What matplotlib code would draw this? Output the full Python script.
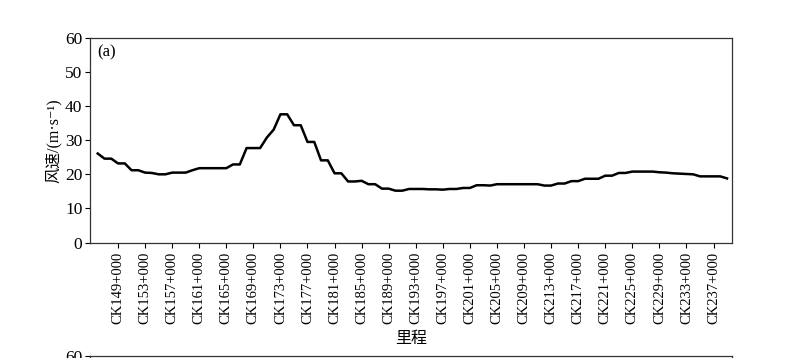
import matplotlib
matplotlib.use("Agg")
import matplotlib.pyplot as plt
import numpy as np

plt.rcParams['font.family'] = ['Liberation Serif', 'Noto Sans CJK SC', 'DejaVu Sans']

km = list(range(146, 240))
wind_speed = [
    26.1, 24.6, 24.6, 23.2, 23.2, 21.2, 21.2, 20.5, 20.4, 20.0,
    20.0, 20.5, 20.5, 20.5, 21.2, 21.8, 21.8, 21.8, 21.8, 21.8,
    22.9, 22.9, 27.7, 27.7, 27.7, 30.8, 33.1, 37.6, 37.6, 34.4,
    34.4, 29.5, 29.5, 24.1, 24.1, 20.3, 20.3, 17.9, 17.9, 18.1,
    17.1, 17.1, 15.8, 15.8, 15.2, 15.2, 15.7, 15.7, 15.7, 15.6,
    15.6, 15.5, 15.7, 15.7, 16.0, 16.0, 16.8, 16.8, 16.7, 17.1,
    17.1, 17.1, 17.1, 17.1, 17.1, 17.1, 16.7, 16.7, 17.3, 17.3,
    18.0, 18.0, 18.7, 18.7, 18.7, 19.6, 19.6, 20.4, 20.4, 20.8,
    20.8, 20.8, 20.8, 20.6, 20.5, 20.3, 20.2, 20.1, 20.0, 19.4,
    19.4, 19.4, 19.4, 18.8,
]
tick_km = list(range(149, 238, 4))
tick_labels = [f"CK{k}+000" for k in tick_km]
y_ticks = [0, 10, 20, 30, 40, 50, 60]

fig = plt.figure(figsize=(8.0, 3.58), dpi=100)
ax = fig.add_axes([0.1125, 0.3226, 0.8019, 0.5714])
ax.plot(km, wind_speed, color='black', lw=1.8)
ax.set_xlim(144.86, 239.66)
ax.set_ylim(0, 60)
ax.set_yticks(y_ticks)
ax.set_xticks(tick_km)
ax.set_xticklabels(tick_labels, rotation=90)
ax.tick_params(axis='both', direction='out', length=3.5, width=0.8, colors='black')
ax.tick_params(axis='y', labelsize=12.5, pad=2)
ax.tick_params(axis='x', labelsize=10.5, pad=3)
for s in ax.spines.values():
    s.set_linewidth(0.9)
    s.set_color('#333333')
ax.set_ylabel('风速/(m·s⁻¹)', fontsize=11.5, labelpad=2)
ax.set_xlabel('里程', fontsize=11.5, labelpad=5)
ax.text(0.012, 0.97, '(a)', transform=ax.transAxes, fontsize=12, va='top', ha='left')

# partially visible next panel
ax2 = fig.add_axes([0.1125, -0.566, 0.8019, 0.5714])
ax2.set_xlim(144.86, 239.66)
ax2.set_ylim(0, 60)
ax2.set_yticks(y_ticks)
ax2.set_xticks([])
ax2.tick_params(axis='y', direction='out', length=3.5, width=0.8, labelsize=12.5, pad=2)
for s in ax2.spines.values():
    s.set_linewidth(0.9)
    s.set_color('#333333')

fig.savefig('out.png', dpi=100)
